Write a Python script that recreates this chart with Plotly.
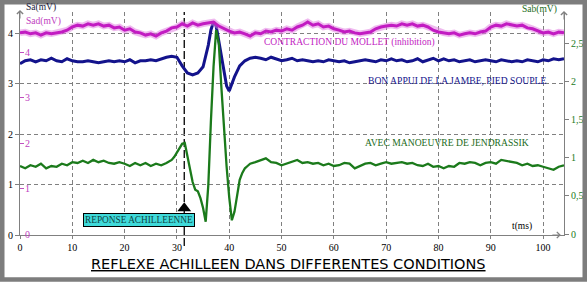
import plotly.graph_objects as go

# ---------------- data ----------------
# Sad (magenta, left inner scale) sampled every 1 ms
t_sad = list(range(0, 105))
sad = [4.42, 4.44, 4.40, 4.42, 4.37, 4.42, 4.40, 4.42, 4.44, 4.48,
       4.55, 4.59, 4.57, 4.62, 4.59, 4.62, 4.57, 4.59, 4.53, 4.55,
       4.48, 4.51, 4.44, 4.42, 4.37, 4.40, 4.35, 4.42, 4.46, 4.53,
       4.55, 4.62, 4.57, 4.64, 4.59, 4.62, 4.64, 4.66, 4.57, 4.51,
       4.46, 4.42, 4.44, 4.40, 4.35, 4.42, 4.40, 4.46, 4.44, 4.48,
       4.46, 4.51, 4.48, 4.55, 4.59, 4.66, 4.59, 4.62, 4.55, 4.57,
       4.51, 4.48, 4.44, 4.46, 4.42, 4.40, 4.42, 4.44, 4.51, 4.55,
       4.57, 4.59, 4.57, 4.62, 4.59, 4.62, 4.57, 4.59, 4.55, 4.48,
       4.44, 4.42, 4.40, 4.42, 4.37, 4.40, 4.42, 4.40, 4.44, 4.46,
       4.55, 4.59, 4.57, 4.62, 4.59, 4.57, 4.59, 4.53, 4.51, 4.46,
       4.42, 4.44, 4.40, 4.44, 4.42]

# Sa (navy, left outer scale)
t_sa = (list(range(0, 35))
        + [35, 35.5, 36, 36.5, 37, 37.5, 38, 38.5, 39, 39.5, 40, 40.5, 41]
        + list(range(42, 105)))
sa = [3.39, 3.45, 3.47, 3.43, 3.47, 3.45, 3.50, 3.45, 3.43, 3.49,
      3.45, 3.43, 3.43, 3.45, 3.43, 3.41, 3.43, 3.45, 3.43, 3.45,
      3.43, 3.47, 3.41, 3.45, 3.45, 3.47, 3.45, 3.49, 3.52, 3.54,
      3.52, 3.35, 3.21, 3.17, 3.21,
      3.33, 3.56, 3.76, 4.06, 4.22, 4.14, 3.86, 3.56, 3.23, 2.95, 2.85, 2.99, 3.13,
      3.35, 3.45, 3.50, 3.52, 3.50, 3.47, 3.52, 3.49, 3.45, 3.47,
      3.50, 3.45, 3.47, 3.45, 3.43, 3.45, 3.43, 3.47, 3.45, 3.43,
      3.45, 3.41, 3.43, 3.45, 3.47, 3.45, 3.43, 3.47, 3.45, 3.49,
      3.45, 3.47, 3.43, 3.45, 3.49, 3.43, 3.47, 3.50, 3.45, 3.49,
      3.45, 3.47, 3.43, 3.45, 3.47, 3.43, 3.45, 3.47, 3.45, 3.43,
      3.47, 3.45, 3.43, 3.45, 3.43, 3.47, 3.45, 3.43, 3.47, 3.45,
      3.49, 3.47, 3.49]

# Sab (green, right scale)
t_sab = (list(range(0, 29))
         + [29, 29.5, 30, 30.5, 31, 31.5, 32, 32.5, 33, 33.5, 34, 34.5, 35, 35.5,
            36, 36.5, 37, 37.5, 38, 38.5, 39, 39.5, 40, 40.5, 41, 41.5, 42, 42.5,
            43, 43.5, 44]
         + list(range(45, 105)))
sab = [0.89, 0.86, 0.90, 0.88, 0.92, 0.86, 0.89, 0.88, 0.92, 0.90,
       0.94, 0.93, 0.96, 0.93, 0.97, 0.94, 0.96, 0.93, 0.92, 0.94,
       0.92, 0.89, 0.93, 0.90, 0.93, 0.89, 0.92, 0.90, 0.93,
       0.97, 1.01, 1.07, 1.13, 1.18, 1.19, 1.02, 0.84, 0.68, 0.58, 0.56, 0.47, 0.34, 0.16,
       0.64, 1.48, 2.19, 2.67, 2.50, 1.92, 1.32, 0.88, 0.48, 0.18, 0.29, 0.48, 0.71, 0.80,
       0.86, 0.89, 0.92,
       0.94, 0.97, 0.99, 0.94, 0.93, 0.90, 0.92, 0.94, 0.97, 0.93,
       0.94, 0.92, 0.93, 0.90, 0.92, 0.89, 0.90, 0.93, 0.92, 0.86,
       0.89, 0.92, 0.93, 0.90, 0.92, 0.94, 0.92, 0.93, 0.94, 0.92,
       0.93, 0.90, 0.89, 0.92, 0.88, 0.89, 0.86, 0.89, 0.88, 0.93,
       0.92, 0.94, 0.93, 0.90, 0.93, 0.94, 0.92, 0.97, 0.96, 0.94,
       0.93, 0.90, 0.92, 0.89, 0.90, 0.88, 0.86, 0.84, 0.88, 0.90]

t_response = 31.4          # time of the "REPONSE ACHILLEENNE" marker (ms)
response_marker_level = [0.53]

x_ticks = [0, 10, 20, 30, 40, 50, 60, 70, 80, 90, 100]
x_ticktext = ["0", "10", "20", "30", "40", "50", "60", "70", "80", "90", "100"]
sa_ticks = [0, 1, 2, 3, 4]
sa_ticktext = ["0", "1", "2", "3", "4"]
sad_ticks = [0, 1, 2, 3, 4]
sad_ticktext = ["0", "1", "2", "3", "4"]
sab_ticks = [0, 0.5, 1, 1.5, 2, 2.5]
sab_ticktext = ["0", "0,5", "1", "1,5", "2", "2,5"]

# ---------------- layout geometry ----------------
W, H = 587, 282
ML, MR, MT, MB = 20, 23, 12, 47
PW, PH = W - ML - MR, H - MT - MB


def xp(px):
    return (px - ML) / PW


def yp(py):
    return (H - MB - py) / PH


MAG = "#c21bc2"
NAVY = "#13138c"
GREEN = "#1b7a1b"
GREY = "#808080"
SERIF = "Liberation Serif"

fig = go.Figure()
fig.add_trace(go.Scatter(x=t_sa, y=sa, yaxis="y", mode="lines",
                         line=dict(color=NAVY, width=3), hoverinfo="skip"))
fig.add_trace(go.Scatter(x=t_sad, y=sad, yaxis="y2", mode="lines",
                         line=dict(color="rgba(225,130,225,0.55)", width=6.5),
                         hoverinfo="skip"))
fig.add_trace(go.Scatter(x=t_sad, y=sad, yaxis="y2", mode="lines",
                         line=dict(color=MAG, width=3), hoverinfo="skip"))
fig.add_trace(go.Scatter(x=t_sab, y=sab, yaxis="y3", mode="lines",
                         line=dict(color=GREEN, width=2.3), hoverinfo="skip"))
fig.add_trace(go.Scatter(x=[t_response], y=response_marker_level, yaxis="y",
                         mode="markers",
                         marker=dict(symbol="triangle-up", size=12, color="black"),
                         hoverinfo="skip"))

tickfont = dict(family=SERIF, size=10, color="black")

fig.update_layout(
    width=W, height=H,
    margin=dict(l=ML, r=MR, t=MT, b=MB, pad=0),
    paper_bgcolor="white", plot_bgcolor="white",
    showlegend=False,
    xaxis=dict(range=[0, 104], tickvals=x_ticks, ticktext=x_ticktext,
               ticks="outside", ticklen=3, tickcolor=GREY, tickfont=tickfont,
               showline=True, linecolor=GREY, linewidth=1,
               showgrid=True, gridcolor=GREY, griddash="4px,3px", gridwidth=1,
               zeroline=False, automargin=False, fixedrange=True),
    yaxis=dict(range=[0, PH / 50.5], tickvals=sa_ticks, ticktext=sa_ticktext,
               ticks="outside", ticklen=4, tickcolor=GREY, tickfont=tickfont,
               showline=True, linecolor=GREY, linewidth=1,
               showgrid=True, gridcolor=GREY, griddash="4px,3px", gridwidth=1,
               zeroline=False, automargin=False),
    yaxis2=dict(range=[-1 / 45.5, (PH - 1) / 45.5], overlaying="y", side="left",
                anchor="x", tickvals=sad_ticks, ticktext=sad_ticktext,
                ticks="inside", ticklen=4, tickcolor="#c050c0",
                ticklabelposition="inside", ticklabeloverflow="allow",
                tickfont=dict(family=SERIF, size=10, color="#c040c0"),
                showline=False, showgrid=False, zeroline=False, automargin=False),
    yaxis3=dict(range=[-1 / 76.4, (PH - 1) / 76.4], overlaying="y", side="right",
                anchor="x", tickvals=sab_ticks, ticktext=sab_ticktext,
                ticks="outside", ticklen=4, tickcolor=GREY,
                tickfont=dict(family=SERIF, size=10, color=GREEN),
                showline=True, linecolor=GREY, linewidth=1,
                showgrid=False, zeroline=False, automargin=False),
)

# vertical dashed marker line at the reflex response
fig.add_shape(type="line", xref="x", yref="paper", x0=t_response, x1=t_response,
              y0=yp(246), y1=1, line=dict(color="black", width=1.3, dash="8px,3px"),
              layer="between")

# outer grey frame
fig.add_shape(type="rect", xref="paper", yref="paper",
              x0=xp(2.25), x1=xp(584.75), y0=yp(279.5), y1=yp(2.25),
              line=dict(color="#7d7d7d", width=4.5))

ann = []


def label(text, px, py, color, size=9, xanchor="center", family=SERIF, **kw):
    ann.append(dict(text=text, x=xp(px), y=yp(py), xref="paper", yref="paper",
                    xanchor=xanchor, yanchor="middle", showarrow=False,
                    font=dict(family=family, size=size, color=color), **kw))


label("Sa(mV)", 41, 8, "#1a1a3a", size=9.5)
label("Sad(mV)", 43, 21, "#c040c0", size=9.5)
label("Sab(mV)", 539, 10, "#1b6b1b", size=9.5)
label("CONTRACTION DU MOLLET (inhibition)", 262, 43, MAG, size=9.5, xanchor="left")
label("BON APPUI DE LA JAMBE, PIED SOUPLE", 366, 80, NAVY, size=9.6, xanchor="left")
label("AVEC MANOEUVRE DE JENDRASSIK", 363, 142, "#1b6b1b", size=9.6, xanchor="left")
label("t(ms)", 522, 226, "black", size=9.5)
label("REPONSE ACHILLEENNE", 139, 219.5, "#0d4545", size=9.3,
      bgcolor="#3fdada", bordercolor="black", borderwidth=1, borderpad=1)
label("<u>REFLEXE ACHILLEEN DANS DIFFERENTES CONDITIONS</u>", 288, 264, "black",
      size=14.5, family="DejaVu Sans")

# axis arrows
for (x, y, ax, ay) in [(0, yp(10), 0, 10), (104, yp(11), 0, 10)]:
    ann.append(dict(text="", x=x, y=y, xref="x", yref="paper", ax=ax, ay=ay,
                    showarrow=True, arrowhead=4, arrowsize=1.2, arrowwidth=1,
                    arrowcolor=GREY))
ann.append(dict(text="", x=103.4, y=0, xref="x", yref="y", ax=-10, ay=0,
                showarrow=True, arrowhead=4, arrowsize=1.2, arrowwidth=1,
                arrowcolor=GREY))

fig.update_layout(annotations=ann)

fig.write_html("out.html")
